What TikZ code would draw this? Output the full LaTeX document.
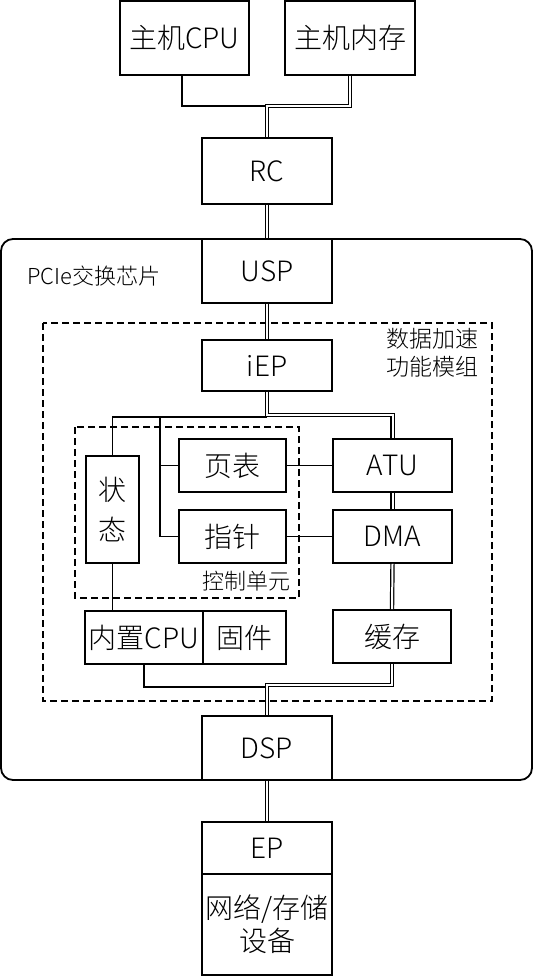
\documentclass[tikz,border=0pt]{standalone}
\usepackage{fontspec}
\setmainfont{Noto Sans CJK SC Light}
\begin{document}
\begin{tikzpicture}[x=1pt,y=-1pt,
  box/.style={draw, line width=1.8pt, inner sep=0pt, font=\fontsize{28}{32}\selectfont},
  conn/.style={line width=1.7pt},
  dbl/.style={double, line width=1.2pt, double distance=2pt},
  dsh/.style={line width=1.8pt, dash pattern=on 7pt off 4pt},
  lbl/.style={inner sep=0pt, font=\fontsize{22}{28}\selectfont}]
\useasboundingbox (0,0) rectangle (534,976);
% outer chip
\draw[line width=1.8pt, rounded corners=12pt] (1,239) rectangle (532,780);
\node[lbl, anchor=west] (chip) at (27,276) {PCIe交换芯片};
% dashed groups
\draw[dsh] (43,323) rectangle (492,701);
\node[lbl, anchor=north east, align=right, font=\fontsize{23}{28}\selectfont] (accel) at (479,328) {数据加速\\功能模组};
\draw[dsh] (75,427) rectangle (299,598);
\node[lbl, anchor=east] (ctl) at (291,581) {控制单元};
% boxes
\node[box, minimum width=129, minimum height=74] (hcpu) at (184.5,38) {主机CPU};
\node[box, minimum width=130, minimum height=74] (hmem) at (350,38) {主机内存};
\node[box, minimum width=130, minimum height=66] (rc) at (267,171) {RC};
\node[box, minimum width=130, minimum height=64, fill=white] (usp) at (267,271) {USP};
\node[box, minimum width=130, minimum height=51] (iep) at (267,365.5) {iEP};
\node[box, minimum width=53, minimum height=107, align=center, font=\fontsize{28}{40}\selectfont] (zt) at (112.5,509.5) {状\\态};
\node[box, minimum width=107, minimum height=53] (yb) at (232.5,465.5) {页表};
\node[box, minimum width=107, minimum height=53] (zz) at (232.5,536.5) {指针};
\node[box, minimum width=119, minimum height=53] (atu) at (392.5,465.5) {ATU};
\node[box, minimum width=119, minimum height=53] (dma) at (392.5,536.5) {DMA};
\node[box, minimum width=118, minimum height=53] (hc) at (392,636.5) {缓存};
\node[box, minimum width=118, minimum height=53] (ncpu) at (144,637.5) {内置CPU};
\node[box, minimum width=83, minimum height=53] (gj) at (244.5,637.5) {固件};
\node[box, minimum width=130, minimum height=64] (dsp) at (267,748) {DSP};
\node[box, minimum width=130, minimum height=52] (ep) at (267,848) {EP};
\node[box, minimum width=130, minimum height=101, align=center, font=\fontsize{28}{33}\selectfont] (dev) at (267,924.5) {网络/存储\\设备};
% junctions
\coordinate (j1) at (267,106);
\coordinate (j2) at (267,417);
\coordinate (j5) at (267,415);
\coordinate (b1) at (160,417);
\coordinate (j3) at (267,687);
\coordinate (j4) at (267,685);
% single connectors
\draw[conn] (182,75) |- (j1);
\draw[conn] (j2) -| (zt.north);
\draw[conn] (b1) |- (zz.west);
\draw[conn] (b1 |- yb.west) -- (yb.west);
\draw[conn] (yb.east) -- (atu.west);
\draw[conn] (zz.east) -- (dma.west);
\draw[conn] (zt.south) -- (zt.south |- ncpu.north);
\draw[conn] (ncpu.south) |- (j3);
% double connectors
\draw[dbl] (hmem.south) |- (j1) -- (rc.north);
\draw[dbl] (rc.south) -- (usp.north);
\draw[dbl] (usp.south) -- (iep.north);
\draw[dbl] (iep.south) -- (j5) -| (atu.north);
\draw[dbl] (atu.south) -- (dma.north);
\draw[dbl] (dma.south) -- (hc.north);
\draw[dbl] (hc.south) |- (j4) -- (dsp.north);
\draw[dbl] (dsp.south) -- (ep.north);
\end{tikzpicture}
\end{document}
